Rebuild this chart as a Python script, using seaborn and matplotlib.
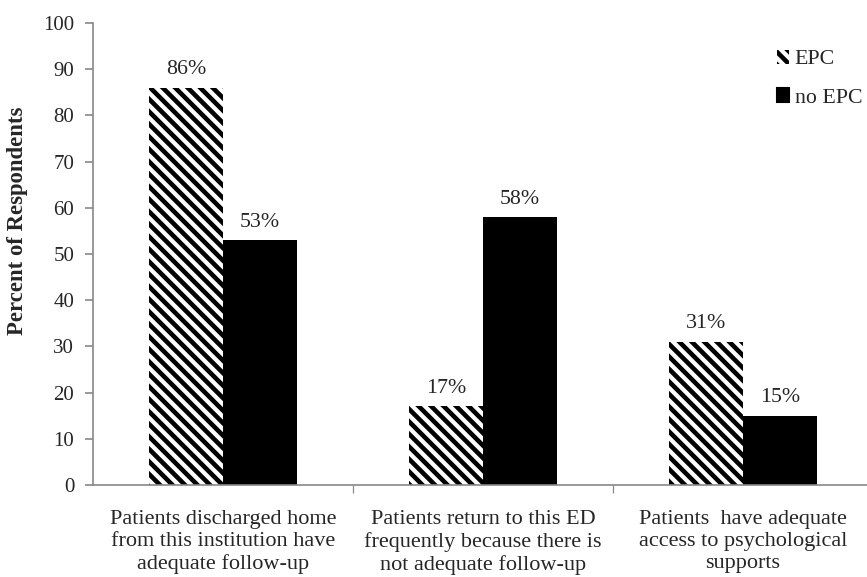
import matplotlib
matplotlib.use("Agg")
import matplotlib.pyplot as plt
import seaborn as sns
import pandas as pd
from matplotlib.patches import Patch

categories = ['Patients discharged home\nfrom this institution have\nadequate follow-up',
              'Patients return to this ED\nfrequently because there is\nnot adequate follow-up',
              'Patients  have adequate\naccess to psychological\nsupports']
groups = ['EPC', 'no EPC']
epc = [86, 17, 31]
no_epc = [53, 58, 15]

df = pd.DataFrame({
    'category': categories * 2,
    'group': [groups[0]] * 3 + [groups[1]] * 3,
    'value': epc + no_epc,
})

sns.set_style('white')
plt.rcParams['font.family'] = ['Liberation Serif', 'DejaVu Serif']
plt.rcParams['hatch.linewidth'] = 2.2
plt.rcParams['hatch.color'] = 'black'

fig = plt.figure(figsize=(867 / 150, 577 / 150), dpi=150)
ax = fig.add_axes([93 / 867, 92 / 577, 780 / 867, 462 / 577])

sns.barplot(data=df, x='category', y='value', hue='group', order=categories,
            hue_order=groups, palette=['white', 'black'], width=0.573,
            gap=0, saturation=1, edgecolor='none', linewidth=0, ax=ax,
            legend=False)

for bar in ax.containers[0]:
    bar.set_hatch('\\\\\\\\')
    bar.set_edgecolor('black')
    bar.set_linewidth(0)

for cont in ax.containers:
    ax.bar_label(cont, labels=[f'{int(v)}%' for v in cont.datavalues],
                 padding=4, fontsize=10.5)

ax.set_xlim(-0.5, 2.5)
ax.set_ylim(0, 100)
ax.set_yticks(range(0, 101, 10))
ax.set_xticks([0.5, 1.5], minor=True)
ax.tick_params(axis='x', which='major', length=0, pad=12, labelsize=10.7)
ax.tick_params(axis='x', which='minor', length=4, color='#888888', direction='out', bottom=True)
ax.tick_params(axis='y', length=4, color='#888888', direction='out', left=True, labelsize=10, pad=5)

ax.set_xlabel('')
ax.set_ylabel('Percent of Respondents', fontsize=10.9, fontweight='bold')
ax.yaxis.set_label_coords(-0.083, 0.571)
for side in ['top', 'right']:
    ax.spines[side].set_visible(False)
for side in ['left', 'bottom']:
    ax.spines[side].set_color('#888888')
    ax.spines[side].set_linewidth(0.8)

handles = [Patch(facecolor='white', hatch='\\\\\\\\', edgecolor='black', linewidth=0),
           Patch(facecolor='black', edgecolor='black')]
leg = ax.legend(handles, groups, loc='upper left', bbox_to_anchor=(0.852, 0.985),
                frameon=False, fontsize=10.5, handlelength=0.55, handleheight=0.6,
                handletextpad=0.25, labelspacing=0.85)

fig.savefig('out.png', dpi=150)
